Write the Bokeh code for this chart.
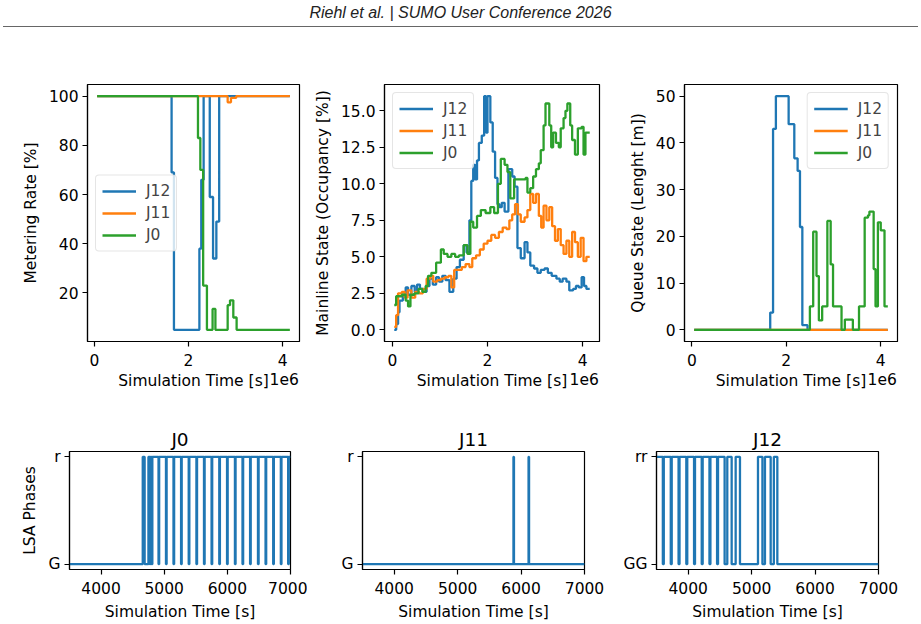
from bokeh.plotting import figure
from bokeh.layouts import column, row
from bokeh.models import Range1d, FixedTicker, Div, LinearAxis, CustomJSTickFormatter
from bokeh.embed import file_html
from bokeh.resources import INLINE

# ---------------- data ----------------
SERIES = ["J12", "J11", "J0"]

# Metering rate [%]  (time in units of 1e6 s)
mr_j12_t = [0.06, 1.64, 1.69, 2.23, 2.27, 2.32, 2.45, 2.52, 2.59, 2.65, 4.15]
mr_j12_v = [100, 69, 5, 38, 66, 100, 59, 34, 49, 100, 100]
mr_j11_t = [0.06, 2.83, 2.90, 3.01, 4.15]
mr_j11_v = [100, 97.5, 99.3, 100, 100]
mr_j0_t = [0.06, 2.20, 2.25, 2.31, 2.39, 2.51, 2.57, 2.83, 2.88, 2.95, 3.02, 4.15]
mr_j0_v = [100, 83, 70, 23, 5, 13.5, 5, 15, 17, 10, 5, 5]

# Mainline occupancy [%]
ml_j12_t = [0.04, 0.08, 0.12, 0.15, 0.22, 0.28, 0.33, 0.40, 0.47, 0.52, 0.58, 0.65, 0.72, 0.78,
            0.85, 0.92, 0.98, 1.05, 1.12, 1.20, 1.28, 1.35, 1.42, 1.50, 1.56, 1.62, 1.66, 1.70,
            1.74, 1.78, 1.82, 1.88, 1.93, 1.97, 2.00, 2.06, 2.11, 2.16, 2.21, 2.25, 2.30, 2.36,
            2.44, 2.52, 2.57, 2.63, 2.70, 2.78, 2.84, 2.90, 2.98, 3.05, 3.12, 3.20, 3.27, 3.35,
            3.45, 3.52, 3.58, 3.66, 3.72, 3.80, 3.86, 3.92, 3.98, 4.03, 4.08, 4.15]
ml_j12_v = [0.0, 0.4, 1.2, 2.0, 2.4, 2.9, 2.4, 3.0, 2.6, 3.1, 2.8, 2.6, 3.0, 3.5,
            3.1, 3.6, 3.3, 3.7, 3.4, 2.6, 3.5, 4.3, 4.8, 5.8, 5.3, 7.5, 10.2, 11.3,
            10.3, 11.6, 12.8, 13.3, 16.0, 13.5, 16.0, 14.2, 12.2, 10.4, 8.6, 8.4, 8.7, 8.1,
            11.0, 10.5, 9.8, 5.6, 4.9, 6.0, 5.3, 4.4, 4.2, 3.9, 4.1, 4.2, 3.9, 3.7,
            3.5, 3.3, 3.5, 3.3, 2.7, 2.8, 3.0, 2.9, 3.6, 3.0, 2.8, 2.8]
ml_j11_t = [0.04, 0.08, 0.12, 0.20, 0.26, 0.32, 0.40, 0.48, 0.56, 0.64, 0.72, 0.80, 0.86, 0.94,
            1.02, 1.10, 1.18, 1.24, 1.30, 1.38, 1.46, 1.54, 1.62, 1.68, 1.76, 1.84, 1.92, 2.00,
            2.08, 2.16, 2.24, 2.32, 2.40, 2.46, 2.52, 2.58, 2.64, 2.70, 2.78, 2.84, 2.90, 2.96,
            3.02, 3.08, 3.13, 3.18, 3.24, 3.30, 3.36, 3.42, 3.48, 3.54, 3.60, 3.66, 3.72, 3.78,
            3.84, 3.90, 3.96, 4.02, 4.08, 4.15]
ml_j11_v = [0.2, 1.0, 2.5, 2.6, 2.2, 2.7, 2.2, 2.6, 2.5, 2.8, 3.5, 3.7, 3.3, 3.4,
            3.5, 3.6, 3.7, 2.9, 4.1, 4.1, 4.3, 4.5, 4.3, 4.9, 5.1, 5.5, 5.9, 6.1,
            6.5, 6.3, 6.7, 7.0, 6.9, 7.5, 7.9, 8.6, 7.9, 7.4, 7.7, 8.2, 9.3, 8.7,
            9.3, 7.8, 7.0, 8.5, 7.5, 8.4, 7.1, 6.1, 6.9, 5.8, 5.2, 6.1, 5.0, 6.7,
            6.0, 5.0, 6.3, 4.7, 5.0, 5.0]
ml_j0_t = [0.04, 0.08, 0.20, 0.28, 0.33, 0.38, 0.46, 0.55, 0.63, 0.70, 0.75, 0.82, 0.92, 1.02,
           1.08, 1.16, 1.24, 1.32, 1.40, 1.50, 1.58, 1.64, 1.70, 1.78, 1.86, 1.96, 2.06, 2.14,
           2.22, 2.28, 2.36, 2.42, 2.48, 2.56, 2.68, 2.80, 2.84, 2.90, 2.96, 3.02, 3.08, 3.12,
           3.18, 3.22, 3.30, 3.34, 3.38, 3.44, 3.50, 3.54, 3.60, 3.64, 3.68, 3.74, 3.78, 3.84,
           3.90, 3.98, 4.02, 4.06, 4.15]
ml_j0_v = [1.7, 2.3, 2.4, 2.0, 1.6, 2.4, 2.5, 2.8, 2.6, 3.0, 3.7, 3.9, 4.6, 5.5,
           5.2, 5.0, 5.2, 5.0, 5.1, 5.8, 5.2, 7.4, 7.0, 7.8, 8.2, 8.0, 8.4, 8.0,
           10.0, 11.7, 11.3, 10.8, 9.0, 10.3, 10.3, 10.4, 9.4, 9.7, 10.5, 11.0, 11.4, 12.3,
           14.0, 15.5, 14.0, 12.5, 13.5, 12.8, 12.5, 13.8, 14.5, 15.0, 15.5, 14.0, 13.0, 12.0,
           13.8, 13.9, 12.0, 13.5, 13.5]

# Queue length [m]
q_j12_t = [0.05, 1.66, 1.72, 1.78, 2.05, 2.17, 2.24, 2.29, 2.34, 2.45, 4.15]
q_j12_v = [0, 3.7, 43, 50, 44, 36.7, 34, 22, 1, 0, 0]
q_j11_t = [0.05, 4.15]
q_j11_v = [0, 0]
q_j0_t = [0.05, 2.50, 2.57, 2.64, 2.69, 2.76, 2.87, 2.94, 2.99, 3.17, 3.24, 3.41, 3.54, 3.66,
          3.73, 3.76, 3.85, 3.89, 3.94, 4.00, 4.08, 4.15]
q_j0_v = [0, 5, 21, 11.5, 2, 5, 23.3, 14, 5, 0, 2.2, 0, 5, 24, 24.5, 25.3, 13, 5, 23, 21.3, 5, 5]

# LSA phases (0 = green state, 1 = red state), time in s
lsa_j0_t = [3500, 4660, 4690, 4750, 4772, 4782, 4800, 4812, 4910, 4920, 5028, 5038, 5147, 5157,
            5267, 5277, 5388, 5398, 5510, 5520, 5630, 5640, 5750, 5760, 5872, 5882, 5995, 6005,
            6120, 6130, 6240, 6250, 6360, 6370, 6485, 6495, 6605, 6615, 6726, 6736, 6847, 6857,
            6963, 6973, 7000]
lsa_j0_v = [0, 1, 0, 1, 0, 1, 0, 1, 0, 1, 0, 1, 0, 1,
            0, 1, 0, 1, 0, 1, 0, 1, 0, 1, 0, 1, 0, 1,
            0, 1, 0, 1, 0, 1, 0, 1, 0, 1, 0, 1, 0, 1,
            0, 1, 1]
lsa_j11_t = [3500, 5880, 5888, 6118, 6126, 7000]
lsa_j11_v = [0, 1, 0, 1, 0, 0]
lsa_j12_t = [3500, 3600, 3615, 3725, 3740, 3848, 3863, 3970, 3985, 4092, 4107, 4213, 4228, 4335,
             4350, 4455, 4470, 4574, 4616, 4685, 4748, 4816, 5100, 5170, 5210, 5300, 5350, 5405, 7000]
lsa_j12_v = [1, 0, 1, 0, 1, 0, 1, 0, 1, 0, 1, 0, 1, 0,
             1, 0, 1, 0, 1, 0, 1, 0, 1, 0, 1, 0, 1, 0, 0]

lsa_labels = {"J0": ["G", "r"], "J11": ["G", "r"], "J12": ["GG", "rr"]}
time_ticks_top = [0, 2, 4]
time_ticks_bottom = [4000, 5000, 6000, 7000]
offset_text = "1e6"

# ---------------- style ----------------
FONT = "DejaVu Sans"
FS = "15.5px"
COLORS = {"J12": "#1f77b4", "J11": "#ff7f0e", "J0": "#2ca02c"}
LW = 2.3


def padded(lo, hi, frac=0.05):
    m = (hi - lo) * frac
    return Range1d(lo - m, hi + m)


def style(p, xstand=7, ystand=4, xlab_stand=3, ylab_stand=6):
    p.outline_line_color = "black"
    p.outline_line_width = 1.2
    p.xgrid.visible = False
    p.ygrid.visible = False
    p.background_fill_color = "white"
    p.border_fill_color = "white"
    for ax in list(p.xaxis) + list(p.yaxis):
        ax.major_label_text_font = FONT
        ax.major_label_text_font_size = FS
        ax.major_label_text_color = "black"
        ax.axis_label_text_font = FONT
        ax.axis_label_text_font_size = FS
        ax.axis_label_text_font_style = "normal"
        ax.axis_label_text_color = "black"
        ax.minor_tick_line_color = None
        ax.major_tick_in = 0
        ax.major_tick_out = 5
        ax.major_tick_line_width = 1.2
        ax.axis_line_width = 1.2
    p.xaxis.major_label_standoff = xstand
    p.yaxis.major_label_standoff = ystand
    p.xaxis.axis_label_standoff = xlab_stand
    p.yaxis.axis_label_standoff = ylab_stand


def top_panel(series, ylabel, yticks, yfmt, left, fw, right, legend_loc):
    allt = [t for s in series for t in s[1]]
    allv = [v for s in series for v in s[2]]
    xr = padded(min(allt), max(allt))
    p = figure(frame_width=fw, frame_height=257, min_border_left=left, min_border_right=right,
               min_border_top=44, min_border_bottom=50,
               x_range=xr, y_range=padded(min(allv), max(allv)),
               output_backend="svg", toolbar_location=None)
    for name, t, v in series:
        p.step(t, v, mode="after", line_color=COLORS[name], line_width=LW, legend_label=name)
    p.xaxis.ticker = FixedTicker(ticks=time_ticks_top)
    p.yaxis.ticker = FixedTicker(ticks=yticks)
    p.yaxis.major_label_overrides = {y: yfmt.format(y) for y in yticks}
    p.xaxis.axis_label = "Simulation Time [s]"
    p.yaxis.axis_label = ylabel
    style(p)
    lg = p.legend[0]
    lg.location = legend_loc
    lg.margin = 8
    lg.padding = 6
    lg.spacing = 3
    lg.label_height = 19
    lg.glyph_height = 19
    lg.glyph_width = 34
    lg.label_standoff = 10
    lg.label_text_font = FONT
    lg.label_text_font_size = FS
    lg.border_line_color = "#cccccc"
    lg.border_line_width = 1
    lg.background_fill_alpha = 0.8
    if "border_radius" in lg.properties():
        lg.border_radius = 4
    # scientific offset text ("1e6") at the right end of the x axis, on the axis-label row
    span = xr.end - xr.start
    xpos = round(xr.end - 15.3 * span / fw, 5)
    off_ax = LinearAxis(ticker=FixedTicker(ticks=[xpos]),
                        formatter=CustomJSTickFormatter(code="return '%s'" % offset_text))
    off_ax.axis_line_color = None
    off_ax.major_tick_line_color = None
    off_ax.minor_tick_line_color = None
    off_ax.major_tick_out = 0
    off_ax.major_tick_in = 0
    off_ax.major_label_standoff = -20
    off_ax.major_label_text_font = FONT
    off_ax.major_label_text_font_size = FS
    off_ax.major_label_text_color = "black"
    p.add_layout(off_ax, "below")
    return p


p1 = top_panel([("J12", mr_j12_t, mr_j12_v), ("J11", mr_j11_t, mr_j11_v), ("J0", mr_j0_t, mr_j0_v)],
               "Metering Rate [%]", [20, 40, 60, 80, 100], "{:d}", 87, 212, 8, "center_left")
p2 = top_panel([("J12", ml_j12_t, ml_j12_v), ("J11", ml_j11_t, ml_j11_v), ("J0", ml_j0_t, ml_j0_v)],
               "Mainline State (Occupancy [%])", [0, 2.5, 5, 7.5, 10, 12.5, 15], "{:.1f}",
               77, 215, 15, "top_left")
p3 = top_panel([("J12", q_j12_t, q_j12_v), ("J11", q_j11_t, q_j11_v), ("J0", q_j0_t, q_j0_v)],
               "Queue State (Lenght [m])", [0, 10, 20, 30, 40, 50], "{:d}", 70, 213, 24, "top_right")


def bottom_panel(name, t, v, left, fw, right, ylabel=None):
    p = figure(frame_width=fw, frame_height=118, min_border_left=left, min_border_right=right,
               min_border_top=59, min_border_bottom=56,
               x_range=Range1d(3500, 7000), y_range=padded(0, 1),
               output_backend="svg", toolbar_location=None)
    p.step(t, v, mode="after", line_color=COLORS["J12"], line_width=LW)
    p.xaxis.ticker = FixedTicker(ticks=time_ticks_bottom)
    p.yaxis.ticker = FixedTicker(ticks=[0, 1])
    p.yaxis.major_label_overrides = {0: lsa_labels[name][0], 1: lsa_labels[name][1]}
    p.xaxis.axis_label = "Simulation Time [s]"
    if ylabel:
        p.yaxis.axis_label = ylabel
    style(p, xlab_stand=6)
    p.title.text = name
    p.title.align = "center"
    p.title.text_font = FONT
    p.title.text_font_size = "18.5px"
    p.title.text_font_style = "normal"
    p.title.text_color = "black"
    p.title.standoff = 4
    return p


p4 = bottom_panel("J0", lsa_j0_t, lsa_j0_v, 69, 221, 17, "LSA Phases")
p5 = bottom_panel("J11", lsa_j11_t, lsa_j11_v, 55, 222, 30)
p6 = bottom_panel("J12", lsa_j12_t, lsa_j12_v, 42, 222, 43)

header = Div(
    text='<div style="width:915px;margin-left:3px;height:27px;border-bottom:1.5px solid #666;'
         'text-align:center;font-style:italic;font-family:\'Liberation Sans\',Arial,sans-serif;'
         'font-size:16px;line-height:26px;color:#222;">Riehl et al. | SUMO User Conference 2026</div>',
    width=921, height=40, margin=(0, 0, 0, 0))

layout = column(header, row(p1, p2, p3), row(p4, p5, p6))
open("out.html", "w").write(file_html(layout, INLINE))
